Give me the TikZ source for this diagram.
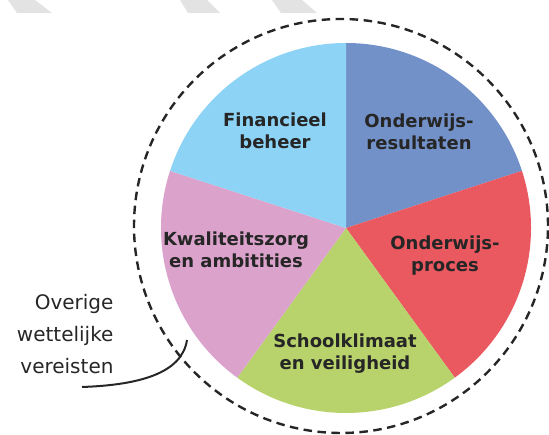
\documentclass[tikz,border=0pt]{standalone}
\usepackage{fontspec}
\setmainfont{DejaVu Sans}
\usepackage{tikz}
\usetikzlibrary{positioning,calc}
\definecolor{resblue}{HTML}{7391C9}
\definecolor{procred}{HTML}{EA5860}
\definecolor{klimgreen}{HTML}{B8D36B}
\definecolor{kwalpink}{HTML}{DBA3CB}
\definecolor{finblue}{HTML}{8DD3F6}
\definecolor{inkgray}{HTML}{262626}
\definecolor{markgray}{HTML}{E3E3E3}
\tikzset{slicetext/.style={text=inkgray, align=center, font=\bfseries\fontsize{18}{22}\selectfont},
  sidetext/.style={text=inkgray, align=right, font=\fontsize{20}{32}\selectfont}}

\begin{document}
\begin{tikzpicture}[x=1pt,y=1pt]
        \useasboundingbox (0,0) rectangle (549,435);
        \fill [markgray] (8,435) -- (35,435) -- (52,422) -- (17,422) -- cycle;
        \fill [markgray] (180,435) -- (207,435) -- (220,422) -- (188,422) -- cycle;
        \fill [markgray] (272,435) -- (302,435) -- (317,422) -- (281,422) -- cycle;
        \coordinate (c) at (346,207);
        \fill [resblue] (c) -- ++(90:185) arc[start angle=90, end angle=18, radius=185] -- cycle;
        \fill [procred] (c) -- ++(18:185) arc[start angle=18, end angle=-54, radius=185] -- cycle;
        \fill [klimgreen] (c) -- ++(-54:185) arc[start angle=-54, end angle=-126, radius=185] -- cycle;
        \fill [kwalpink] (c) -- ++(-126:185) arc[start angle=-126, end angle=-198, radius=185] -- cycle;
        \fill [finblue] (c) -- ++(162:185) arc[start angle=162, end angle=90, radius=185] -- cycle;
        \draw [inkgray, line width=2.4pt, dash pattern=on 8.5pt off 5.5pt] (341,209) circle (207);
        \node[slicetext] (fin) at (275,304) {Financieel\\beheer};
        \node[slicetext] (res) at (419,303) {Onderwijs-\\resultaten};
        \node[slicetext] (kwal) at (236,185) {Kwaliteitszorg\\en ambitities};
        \node[slicetext] (proc) at (445,179) {Onderwijs-\\proces};
        \node[slicetext] (klim) at (345,81) {Schoolklimaat\\en veiligheid};
        \node[sidetext, anchor=east] (overig) at (117,101) {Overige\\wettelijke\\vereisten};
        \coordinate (tailA) at (82,48);
        \coordinate (tailB) at (187,95);
        \draw [inkgray, line width=2pt] (tailA) .. controls (140,50) and (182,62) .. (tailB);
\end{tikzpicture}
\end{document}
